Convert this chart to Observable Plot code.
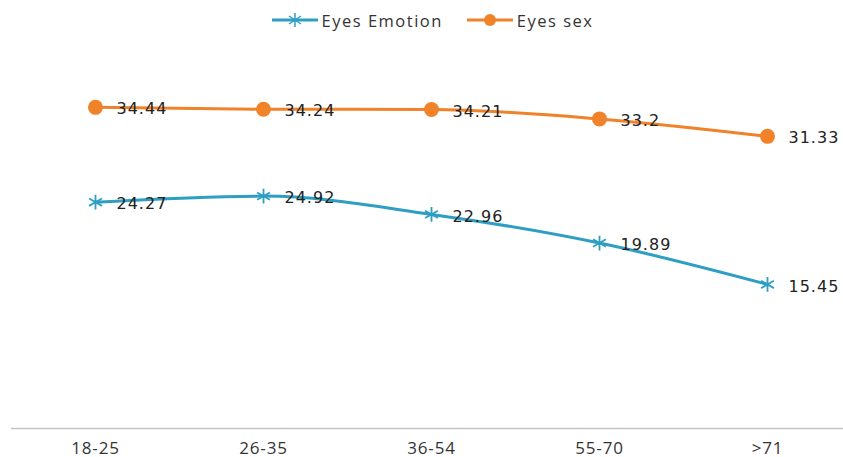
<!DOCTYPE html>
<html>
<head>
<meta charset="utf-8">
<script src="https://cdn.jsdelivr.net/npm/d3@7"></script>
<script src="https://cdn.jsdelivr.net/npm/@observablehq/plot@0.6"></script>
<style>
  body { margin: 0; background: #fff; width: 843px; height: 457px; overflow: hidden; }
  #legend { height: 40px; display: flex; justify-content: center; align-items: center; gap: 24px;
    font-family: "Open Sans", sans-serif; font-size: 16.5px; letter-spacing: 1.5px; color: #333; padding-left: 22px; box-sizing: border-box; }
  .item { display: flex; align-items: center; gap: 4px; }
  g.vlabel text { font-family: "DejaVu Sans", sans-serif; font-size: 16px; letter-spacing: 1px; }
  g[aria-label="x-axis tick label"] text { font-family: "Open Sans", sans-serif; letter-spacing: 0.8px; }
</style>
</head>
<body>
<div id="legend"></div>
<div id="chart"></div>
<script>
const categories = ["18-25", "26-35", "36-54", "55-70", ">71"];
const eyesEmotion = [24.27, 24.92, 22.96, 19.89, 15.45];
const eyesSex = [34.44, 34.24, 34.21, 33.2, 31.33];
const seriesNames = ["Eyes Emotion", "Eyes sex"];
const colors = ["#2e9ec2", "#f0822a"];

const rows = [];
categories.forEach((c, i) => {
  rows.push({cat: c, value: eyesEmotion[i], series: seriesNames[0]});
  rows.push({cat: c, value: eyesSex[i], series: seriesNames[1]});
});
const emo = rows.filter(d => d.series === seriesNames[0]);
const sex = rows.filter(d => d.series === seriesNames[1]);

// legend
const legend = document.getElementById("legend");
legend.innerHTML = `
<div class="item"><svg width="46" height="16"><line x1="0" x2="46" y1="8" y2="8" stroke="${colors[0]}" stroke-width="3"/>
<g stroke="${colors[0]}" stroke-width="1.5"><line x1="23" x2="23" y1="1" y2="15"/><line x1="17" x2="29" y1="4" y2="12"/><line x1="17" x2="29" y1="12" y2="4"/></g></svg><span>${seriesNames[0]}</span></div>
<div class="item"><svg width="46" height="16"><line x1="0" x2="46" y1="8" y2="8" stroke="${colors[1]}" stroke-width="3"/>
<circle cx="23" cy="8" r="6" fill="${colors[1]}"/></svg><span>${seriesNames[1]}</span></div>`;

const chart = Plot.plot({
  width: 843,
  height: 417,
  marginTop: 15,
  marginBottom: 29,
  marginLeft: 11,
  marginRight: -8,
  style: {overflow: "visible"},
  x: {type: "point", domain: categories, padding: 0.5, label: null},
  y: {domain: [0, 40], axis: null},
  marks: [
    Plot.ruleY([0], {stroke: "#c4c4c4", strokeWidth: 1.5}),
    Plot.axisX({tickSize: 0, tickPadding: 13, fontSize: 17, fill: "#333", label: null}),
    Plot.line(emo, {x: "cat", y: "value", stroke: colors[0], strokeWidth: 3, curve: "monotone-x"}),
    Plot.line(sex, {x: "cat", y: "value", stroke: colors[1], strokeWidth: 3, curve: "monotone-x"}),
    Plot.dot(emo, {x: "cat", y: "value", symbol: "asterisk", r: 7, stroke: colors[0], strokeWidth: 1.8}),
    Plot.dot(sex, {x: "cat", y: "value", r: 7.5, fill: colors[1], stroke: "none"}),
    Plot.text(rows, {x: "cat", y: "value", text: d => String(d.value), textAnchor: "start", dx: 21, dy: 2,
      fill: "#222", className: "vlabel"})
  ]
});
document.getElementById("chart").appendChild(chart);
</script>
</body>
</html>
